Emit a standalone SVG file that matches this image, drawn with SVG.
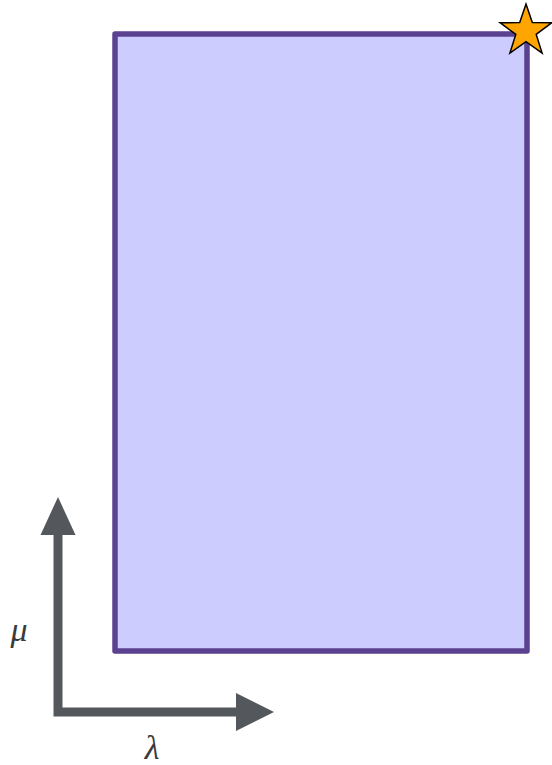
<svg xmlns="http://www.w3.org/2000/svg" width="552" height="765" viewBox="0 0 552 765">
<style>
.lbl{font-family:"Liberation Serif","DejaVu Serif",serif;font-style:italic;font-size:34px;fill:#3a3a3a}
.axis{stroke:#54585c;stroke-width:9;fill:none}
.head{fill:#54585c}
</style>
<rect width="552" height="765" fill="#ffffff"/>
<g id="region">
<rect x="115" y="34" width="412" height="617" fill="#ccccff" stroke="#5b4290" stroke-width="5.5" stroke-linejoin="round"/>
</g>
<g id="star">
<polygon points="526,4 532.3,22.6 551.9,22.7 536.2,34.4 542.1,53 526,41.7 509.9,53 515.8,34.4 500.1,22.7 519.7,22.6" fill="#ffa500" stroke="#000000" stroke-width="1.5" stroke-linejoin="miter"/>
</g>
<g id="axes">
<path class="axis" d="M58,534 V712 H237"/>
<polygon class="head" points="58,497 75.5,535 40.5,535"/>
<polygon class="head" points="274,712 236,693 236,731"/>
</g>
<g id="labels">
<text class="lbl" x="19" y="641" text-anchor="middle">μ</text>
<text class="lbl" x="152" y="759" text-anchor="middle">λ</text>
</g>
</svg>
